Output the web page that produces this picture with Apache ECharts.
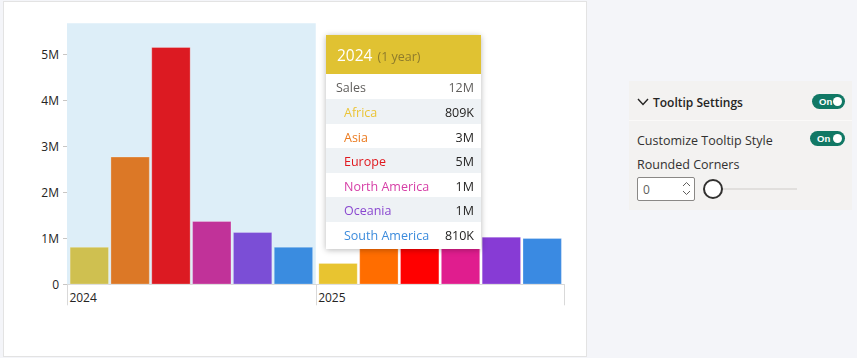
<!DOCTYPE html>
<html>
<head>
<meta charset="utf-8">
<script src="https://cdn.jsdelivr.net/npm/echarts@6/dist/echarts.min.js"></script>
<style>
  html, body { margin:0; padding:0; width:857px; height:358px; overflow:hidden; background:#F4F5F9; font-family:"Open Sans", "Noto Sans", sans-serif; }
  #card { position:absolute; left:3px; top:1px; width:582px; height:354px; background:#fff; border:1px solid #E3E3E3; }
  #chart { position:absolute; left:0; top:0; width:857px; height:358px; }
  #panel { position:absolute; left:629px; top:81px; width:223px; height:129px; background:#F3F2F1; color:#252423; }
  .ptext { position:absolute; white-space:nowrap; line-height:1; }
  .toggle { position:absolute; height:15px; border-radius:8px; background:#117865; }
  .toggle span { position:absolute; left:7px; top:2px; color:#fff; font-size:9.5px; font-weight:700; line-height:11px; font-family:"Liberation Sans", sans-serif; }
  .toggle i { position:absolute; right:3px; top:3px; width:9px; height:9px; border-radius:50%; background:#fff; }
</style>
</head>
<body>
<div id="card"></div>
<div id="chart"></div>
<div id="panel">
  <svg style="position:absolute;left:8px;top:17px" width="12" height="8" viewBox="0 0 12 8"><polyline points="1,1 6,6.5 11,1" fill="none" stroke="#252423" stroke-width="1.4"/></svg>
  <div class="ptext" style="left:24px;top:15.5px;font-size:12px;font-weight:600;">Tooltip Settings</div>
  <div class="toggle" style="left:183px;top:13px;width:33px;"><span>On</span><i></i></div>
  <div style="position:absolute;left:0;top:39px;width:223px;height:1px;background:#FAF9F8;"></div>
  <div class="ptext" style="left:8px;top:53.5px;font-size:12.5px;color:#323130;">Customize Tooltip Style</div>
  <div class="toggle" style="left:181px;top:50px;width:35px;"><span>On</span><i></i></div>
  <div class="ptext" style="left:8px;top:77.5px;font-size:12.5px;color:#323130;">Rounded Corners</div>
  <div style="position:absolute;left:8px;top:96px;width:58px;height:24px;background:#fff;border:1px solid #8A8886;border-radius:2px;box-sizing:border-box;">
    <div class="ptext" style="left:5px;top:5.5px;font-size:12px;color:#605E5C;">0</div>
    <svg style="position:absolute;left:44px;top:2px" width="9" height="18" viewBox="0 0 9 18"><polyline points="1,6 4.5,2.5 8,6" fill="none" stroke="#605E5C" stroke-width="1"/><polyline points="1,11 4.5,14.5 8,11" fill="none" stroke="#605E5C" stroke-width="1"/></svg>
  </div>
  <div style="position:absolute;left:93px;top:107px;width:75px;height:2px;background:#E1DFDD;"></div>
  <div style="position:absolute;left:74px;top:98px;width:20px;height:20px;border-radius:50%;background:#fff;border:2px solid #323130;box-sizing:border-box;"></div>
</div>
<script>
// ---- data ----
var years = ['2024', '2025'];
var regions = ['Africa', 'Asia', 'Europe', 'North America', 'Oceania', 'South America'];
var sales2024 = [809000, 2770000, 5150000, 1370000, 1130000, 810000];
var sales2025 = [460000, 2900000, 4600000, 1300000, 1030000, 1000000];
var yTicks = [0, 1000000, 2000000, 3000000, 4000000, 5000000];

// ---- style ----
var colors2024 = ['#CFC050', '#DC7826', '#DC1A22', '#C13299', '#7B4ED6', '#3A8CE0'];
var colors2025 = ['#E8C430', '#FF6D00', '#FF0000', '#E01D8E', '#873BD5', '#3A8AE2'];
var tipNameColors = ['#EBC437', '#EB7A1E', '#E0191F', '#D63EA6', '#8A48D0', '#3C8BDC'];
var FONT = '"Open Sans", "Noto Sans", sans-serif';

function fmt(v) {
  if (v >= 1e6) return Math.round(v / 1e6) + 'M';
  if (v >= 1e3) return Math.round(v / 1e3) + 'K';
  return String(v);
}

var byYear = [sales2024, sales2025];

var series = regions.map(function (r, i) {
  return {
    name: r,
    type: 'bar',
    barGap: '5%',
    barCategoryGap: '2.3%',
    data: [
      { value: sales2024[i], itemStyle: { color: colors2024[i] } },
      { value: sales2025[i], itemStyle: { color: colors2025[i] } }
    ],
    itemStyle: { borderColor: 'rgba(255,255,255,0.5)', borderWidth: 0.5 },
    emphasis: { disabled: true }
  };
});

var chart = echarts.init(document.getElementById('chart'), null, { renderer: 'svg' });
chart.setOption({
  animation: false,
  textStyle: { fontFamily: FONT },
  grid: { left: 67, right: 292.5, top: 23.3, bottom: 73.7, containLabel: false },
  tooltip: {
    trigger: 'axis',
    triggerOn: 'none',
    alwaysShowContent: true,
    transitionDuration: 0,
    padding: 0,
    borderWidth: 0,
    backgroundColor: '#fff',
    extraCssText: 'box-shadow:0 1px 6px rgba(0,0,0,0.28);border-radius:0;',
    axisPointer: { type: 'shadow', shadowStyle: { color: '#DDEEF8', opacity: 1 }, z: 0 },
    position: [326, 35],
    formatter: function (params) {
      var idx = params[0].dataIndex;
      var vals = byYear[idx];
      var total = vals.reduce(function (a, b) { return a + b; }, 0);
      var h = '<div style="width:155px;font-family:' + FONT.replace(/"/g, "'") + ';">';
      h += '<div style="height:39px;background:#E0C232;padding-left:11px;line-height:41px;white-space:nowrap;">' +
           '<span style="color:#fff;font-size:15.5px;">' + years[idx] + '</span>' +
           '<span style="color:#8E7B2C;font-size:12.5px;margin-left:5px;">(1 year)</span></div>';
      h += '<div style="height:25px;line-height:27px;padding:0 7px 0 10px;font-size:12.5px;color:#605E5C;display:flex;justify-content:space-between;"><span>Sales</span><span>' + fmt(total) + '</span></div>';
      regions.forEach(function (r, i) {
        var bg = (i % 2 === 0) ? '#EEF2F5' : '#fff';
        h += '<div style="height:24.5px;line-height:27px;padding:0 7px 0 18px;font-size:12.5px;background:' + bg + ';display:flex;justify-content:space-between;white-space:nowrap;overflow:hidden;">' +
             '<span style="color:' + tipNameColors[i] + ';">' + r + '</span><span style="color:#252423;">' + fmt(vals[i]) + '</span></div>';
      });
      h += '<div style="height:3px;"></div></div>';
      return h;
    }
  },
  xAxis: {
    type: 'category',
    data: years,
    boundaryGap: true,
    axisLine: { show: true, lineStyle: { color: '#D9D9D9', width: 1 } },
    axisTick: { show: true, length: 21, lineStyle: { color: '#D9D9D9' } },
    axisLabel: {
      margin: 7,
      formatter: '{a|{value}}',
      rich: { a: { width: 244, align: 'left', fontSize: 12, color: '#252423', fontFamily: FONT } }
    },
    splitLine: { show: false }
  },
  yAxis: {
    type: 'value',
    min: 0,
    max: 5670000,
    interval: 1000000,
    axisLine: { show: false },
    axisTick: { show: true, length: 4, lineStyle: { color: '#C8C6C4' }, customValues: yTicks },
    axisLabel: {
      margin: 8,
      fontSize: 12,
      color: '#252423',
      customValues: yTicks,
      formatter: function (v) { return v === 0 ? '0' : (v / 1e6) + 'M'; }
    },
    splitLine: { show: false }
  },
  series: series
});
chart.dispatchAction({ type: 'showTip', seriesIndex: 0, dataIndex: 0 });
</script>
</body>
</html>
